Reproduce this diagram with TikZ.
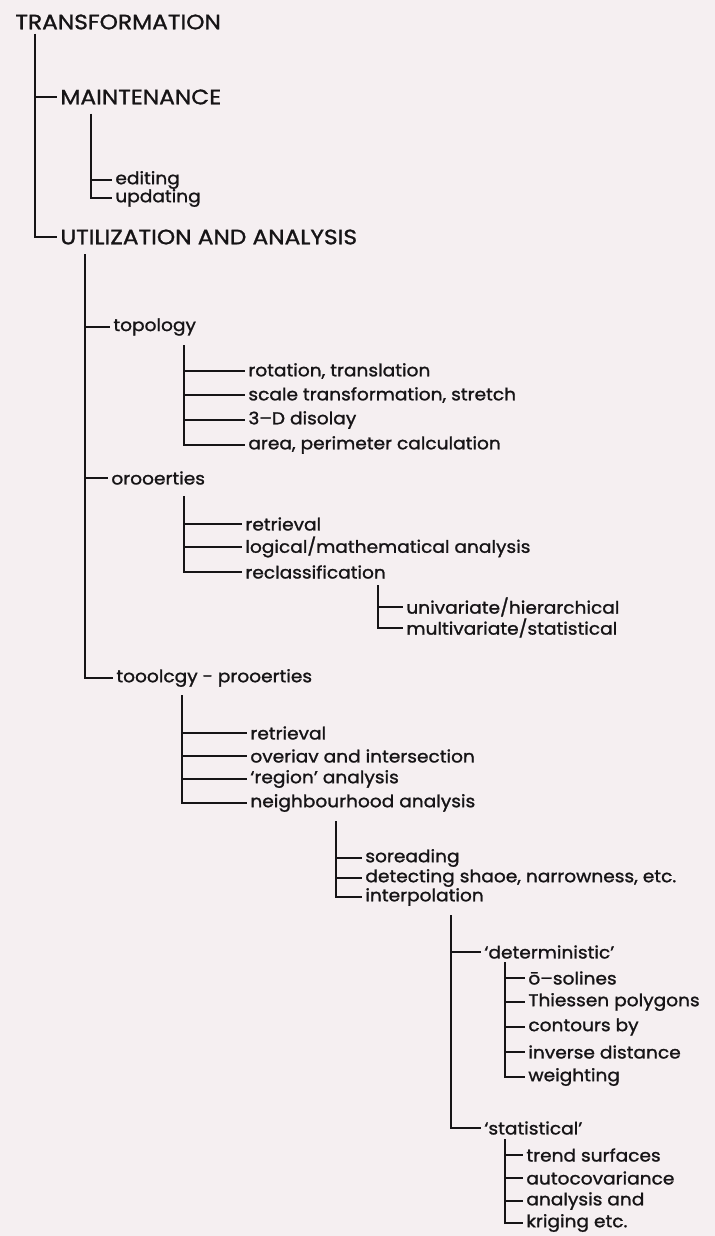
\documentclass[tikz,border=0pt]{standalone}
\usepackage{fontspec}
\setmainfont{Poppins}
\newfontfamily\itemfont{Poppins}[FakeStretch=1.08, FakeBold=1.3]
\newfontfamily\headfont{Poppins}[FakeStretch=1.12, FakeBold=1.3]
\definecolor{paper}{RGB}{245,239,241}
\definecolor{ink}{RGB}{22,20,22}
\tikzset{
  lbl/.style={anchor=west, inner xsep=1.5pt, inner ysep=0.5pt, text=ink, font=\itemfont\fontsize{8.6}{10}\selectfont},
  headlbl/.style={lbl, font=\headfont\fontsize{10.4}{12}\selectfont},
  ln/.style={draw=ink, line width=0.95pt},
}
\begin{document}
\begin{tikzpicture}[x=0.5pt, y=-0.5pt]
\fill[paper] (0,0) rectangle (715,1236);
\useasboundingbox (0,0) rectangle (715,1236);

% top level
\node[headlbl] (root) at (12,22) {TRANSFORMATION};
\coordinate (v0) at (35,34);
\node[headlbl] (maint) at (57,97) {MAINTENANCE};
\node[headlbl] (util) at (57,237) {UTILIZATION AND ANALYSIS};
\draw[ln] (v0) |- (maint.west);
\draw[ln] (v0) |- (util.west);

% maintenance
\coordinate (v1) at (91,114);
\node[lbl] (edit) at (112,180) {editing};
\node[lbl] (upd) at (112,198) {updating};
\draw[ln] (v1) |- (edit.west);
\draw[ln] (v1) |- (upd.west);

% utilization and analysis
\coordinate (v2) at (85,254);
\node[lbl] (topo) at (110,327) {topology};
\node[lbl] (prop) at (108,478) {orooerties};
\node[lbl] (tp) at (113,678) {tooolcgy - prooerties};
\draw[ln] (v2) |- (topo.west);
\draw[ln] (v2) |- (prop.west);
\draw[ln] (v2) |- (tp.west);

% topology
\coordinate (v3) at (184,345);
\node[lbl] (rot) at (245,371) {rotation, translation};
\node[lbl] (scl) at (245,395) {scale transformation, stretch};
\node[lbl] (disp) at (245,420) {3–D disolay};
\node[lbl] (area) at (245,445) {area, perimeter calculation};
\foreach \n in {rot,scl,disp,area} \draw[ln] (v3) |- (\n.west);

% properties
\coordinate (v4) at (184,496);
\node[lbl] (reta) at (242,524) {retrieval};
\node[lbl] (logi) at (242,547) {logical/mathematical analysis};
\node[lbl] (recl) at (242,572) {reclassification};
\foreach \n in {reta,logi,recl} \draw[ln] (v4) |- (\n.west);

\coordinate (v5) at (378,585);
\node[lbl] (univ) at (403,607) {univariate/hierarchical};
\node[lbl] (multi) at (403,628) {multivariate/statistical};
\foreach \n in {univ,multi} \draw[ln] (v5) |- (\n.west);

% topology - properties
\coordinate (v6) at (182,695);
\node[lbl] (retb) at (247,733) {retrieval};
\node[lbl] (over) at (247,756) {overiav and intersection};
\node[lbl] (regn) at (247,779) {‘region’ analysis};
\node[lbl] (neigh) at (247,803) {neighbourhood analysis};
\foreach \n in {retb,over,regn,neigh} \draw[ln] (v6) |- (\n.west);

\coordinate (v7) at (336,821);
\node[lbl] (spread) at (362,858) {soreading};
\node[lbl] (detect) at (362,878) {detecting shaoe, narrowness, etc.};
\node[lbl] (interp) at (362,897) {interpolation};
\foreach \n in {spread,detect,interp} \draw[ln] (v7) |- (\n.west);

% interpolation
\coordinate (v8) at (451,915);
\node[lbl] (det) at (481,952) {‘deterministic’};
\node[lbl] (stat) at (481,1128) {‘statistical’};
\foreach \n in {det,stat} \draw[ln] (v8) |- (\n.west);

\coordinate (v9) at (505,962);
\node[lbl] (sol) at (525,978) {ō–solines};
\node[lbl] (thi) at (525,1002) {Thiessen polygons};
\node[lbl] (con) at (525,1027) {contours by};
\node[lbl] (inv) at (525,1052) {inverse distance};
\node[lbl] (wei) at (525,1077) {weighting};
\foreach \n in {sol,thi,con,inv,wei} \draw[ln] (v9) |- (\n.west);

\coordinate (v10) at (505,1139);
\node[lbl] (trend) at (523,1155) {trend surfaces};
\node[lbl] (auto) at (523,1178) {autocovariance};
\node[lbl] (anal) at (523,1201) {analysis and};
\node[lbl] (krig) at (523,1223) {kriging etc.};
\foreach \n in {trend,auto,anal,krig} \draw[ln] (v10) |- (\n.west);
\end{tikzpicture}
\end{document}
